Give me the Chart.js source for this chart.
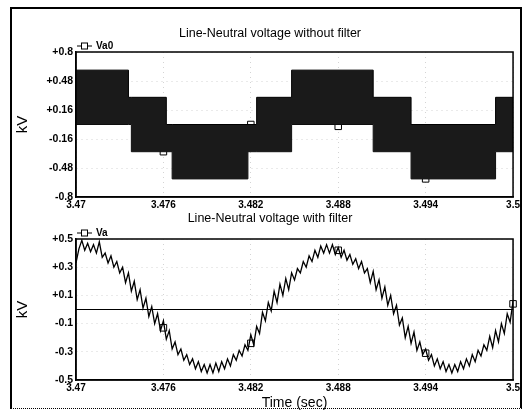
<!DOCTYPE html>
<html>
<head>
<meta charset="utf-8">
<script src="https://cdn.jsdelivr.net/npm/chart.js@4.4.0/dist/chart.umd.min.js"></script>
<style>
  body { margin: 0; background: #fff; }
  #frame { position: absolute; left: 10px; top: 7px; width: 512px; height: 402px; box-sizing: border-box;
    border-top: 2px solid #000; border-left: 2px solid #000; border-right: 2px solid #000; border-bottom: 1px dotted #000; }
  .box { position: absolute; left: 10px; width: 512px; }
  #top { top: 7px; height: 205px; }
  #bottom { top: 208px; height: 202px; }
</style>
</head>
<body>
<div id="frame"></div>
<div class="box" id="top"><canvas id="chartTop" width="512" height="205"></canvas></div>
<div class="box" id="bottom"><canvas id="chartBottom" width="512" height="202"></canvas></div>
<script>
// shared x axis
const xTicks = [3.47, 3.476, 3.482, 3.488, 3.494, 3.5];
const xTickLabels = ['3.47', '3.476', '3.482', '3.488', '3.494', '3.5'];

// top panel: multilevel inverter output, drawn as the band the switching covers
const stepTimes = [3.470, 3.4736, 3.4738, 3.4762, 3.4766, 3.4818, 3.4824, 3.4848, 3.4904, 3.4930, 3.4988, 3.5];
const va0Upper = [0.6, 0.3, 0.3, 0, 0, 0, 0.3, 0.6, 0.3, 0, 0.3, 0.3];
const va0Lower = [0, 0, -0.3, -0.3, -0.6, -0.3, -0.3, 0, -0.3, -0.6, -0.3, -0.3];
const va0MarkTimes = [3.476, 3.482, 3.488, 3.494];
const va0Marks = [-0.3, 0.0, -0.02, -0.6];
const yTopTicks = [-0.8, -0.48, -0.16, 0.16, 0.48, 0.8];
const yTopLabels = ['-0.8', '-0.48', '-0.16', '+0.16', '+0.48', '+0.8'];

// bottom panel: filtered voltage, sampled every 0.2 ms from 3.47 s
const vaStart = 3.47;
const vaStep = 0.0002;
const va = [
  0.33, 0.43, 0.49, 0.42, 0.47, 0.41, 0.46, 0.40, 0.48, 0.37,
  0.40, 0.33, 0.38, 0.30, 0.34, 0.26, 0.30, 0.19, 0.26, 0.13,
  0.20, 0.07, 0.14, 0.01, 0.08, -0.05, 0.02, -0.10, -0.03, -0.15,
  -0.08, -0.21, -0.15, -0.28, -0.23, -0.32, -0.28, -0.36, -0.32, -0.39,
  -0.35, -0.42, -0.37, -0.44, -0.39, -0.45, -0.39, -0.45, -0.38, -0.44,
  -0.37, -0.42, -0.35, -0.40, -0.32, -0.36, -0.29, -0.33, -0.25, -0.29,
  -0.18, -0.25, -0.12, -0.17, -0.02, -0.08, 0.05, -0.01, 0.13, 0.05,
  0.18, 0.10, 0.22, 0.14, 0.26, 0.21, 0.29, 0.26, 0.34, 0.30,
  0.38, 0.34, 0.42, 0.37, 0.45, 0.40, 0.46, 0.40, 0.46, 0.39,
  0.44, 0.37, 0.42, 0.35, 0.39, 0.32, 0.36, 0.29, 0.34, 0.26,
  0.29, 0.19, 0.27, 0.14, 0.21, 0.08, 0.16, 0.03, 0.10, -0.03,
  0.03, -0.11, -0.06, -0.20, -0.12, -0.24, -0.16, -0.29, -0.23, -0.32,
  -0.28, -0.36, -0.32, -0.40, -0.35, -0.42, -0.37, -0.44, -0.39, -0.45,
  -0.39, -0.44, -0.37, -0.42, -0.35, -0.40, -0.32, -0.37, -0.29, -0.33,
  -0.25, -0.29, -0.19, -0.27, -0.15, -0.23, -0.10, -0.17, -0.03, -0.09,
  0.06
];
const vaMarkTimes = [3.476, 3.482, 3.488, 3.494, 3.5];
const vaMarks = [-0.13, -0.24, 0.42, -0.31, 0.04];
const yBotTicks = [-0.5, -0.3, -0.1, 0.1, 0.3, 0.5];
const yBotLabels = ['-0.5', '-0.3', '-0.1', '+0.1', '+0.3', '+0.5'];

const FONT = '"Liberation Sans", Arial, sans-serif';

function pts(xs, ys) {
  return ys.map((y, i) => ({ x: xs[i], y: y }));
}

// small "-[]- name" key sitting just above the plot, plus the plot box
const panelDeco = {
  id: 'panelDeco',
  afterDraw(chart, args, opts) {
    const ctx = chart.ctx;
    const a = chart.chartArea;
    ctx.save();
    if (opts.zeroLine) {
      const y0 = chart.scales.y.getPixelForValue(0);
      ctx.strokeStyle = '#000';
      ctx.lineWidth = 1.2;
      ctx.beginPath();
      ctx.moveTo(a.left, y0);
      ctx.lineTo(a.right, y0);
      ctx.stroke();
    }
    ctx.strokeStyle = '#000';
    ctx.lineWidth = 1.5;
    ctx.strokeRect(a.left, a.top, a.right - a.left, a.bottom - a.top);

    const y = a.top - 6;
    const x = a.left + 1;
    ctx.lineWidth = 1;
    ctx.beginPath();
    ctx.moveTo(x, y);
    ctx.lineTo(x + 15, y);
    ctx.stroke();
    ctx.fillStyle = '#fff';
    ctx.fillRect(x + 4.5, y - 3, 6, 6);
    ctx.strokeRect(x + 4.5, y - 3, 6, 6);
    ctx.fillStyle = '#000';
    ctx.font = 'bold 10px ' + FONT;
    ctx.textBaseline = 'middle';
    ctx.fillText(opts.text, x + 19, y);
    ctx.restore();
  }
};

function scales(yMin, yMax, yTicks, yLabels, xHeight, xTitle) {
  return {
    x: {
      type: 'linear',
      min: 3.47,
      max: 3.5,
      afterBuildTicks: s => { s.ticks = xTicks.map(v => ({ value: v })); },
      afterFit: s => { s.height = xHeight; },
      ticks: {
        color: '#000',
        padding: 2,
        maxRotation: 0,
        font: { family: FONT, size: 10, weight: 'bold' },
        callback: v => xTickLabels[xTicks.indexOf(v)]
      },
      grid: { color: '#d4d4d4', lineWidth: 1, drawTicks: false },
      border: { color: '#000', width: 1.5, dash: [1, 4] },
      title: {
        display: !!xTitle,
        text: xTitle,
        color: '#000',
        font: { family: FONT, size: 14, lineHeight: 1 },
        padding: { top: 0, bottom: 0 }
      }
    },
    y: {
      min: yMin,
      max: yMax,
      afterBuildTicks: s => { s.ticks = yTicks.map(v => ({ value: v })); },
      afterFit: s => { s.width = 50; },
      ticks: {
        color: '#000',
        padding: 3,
        font: { family: FONT, size: 10.5, weight: 'bold' },
        callback: v => yLabels[yTicks.indexOf(v)]
      },
      grid: { color: '#d4d4d4', lineWidth: 1, drawTicks: false },
      border: { color: '#000', width: 1.5, dash: [1, 4] },
      title: {
        display: true,
        text: 'kV',
        color: '#000',
        font: { family: FONT, size: 15 },
        padding: { top: -12, bottom: 0 }
      }
    }
  };
}

function titleOpts(text, top, bottom) {
  return {
    display: true,
    text: text,
    color: '#000',
    font: { family: FONT, size: 12.5, weight: 'normal', lineHeight: 1.2 },
    padding: { top: top, bottom: bottom }
  };
}

const markStyle = {
  showLine: false,
  pointStyle: 'rect',
  pointRadius: 4.6,
  backgroundColor: '#fff',
  borderColor: '#000',
  borderWidth: 1,
  clip: false
};

new Chart(document.getElementById('chartTop'), {
  type: 'line',
  data: {
    datasets: [
      {
        label: 'Va0 upper',
        data: pts(stepTimes, va0Upper),
        stepped: true,
        borderColor: '#000',
        borderWidth: 1,
        backgroundColor: '#1a1a1a',
        fill: '+1',
        pointRadius: 0
      },
      {
        label: 'Va0 lower',
        data: pts(stepTimes, va0Lower),
        stepped: true,
        borderColor: '#000',
        borderWidth: 1,
        fill: false,
        pointRadius: 0
      },
      Object.assign({ label: 'Va0', data: pts(va0MarkTimes, va0Marks) }, markStyle)
    ]
  },
  options: {
    responsive: false,
    animation: false,
    layout: { padding: { left: 16, right: 8, top: 0, bottom: 0 } },
    plugins: {
      legend: { display: false },
      tooltip: { enabled: false },
      title: titleOpts('Line-Neutral voltage without filter', 19.5, 10.5),
      panelDeco: { text: 'Va0', zeroLine: false }
    },
    scales: scales(-0.8, 0.8, yTopTicks, yTopLabels, 15, '')
  },
  plugins: [panelDeco]
});

new Chart(document.getElementById('chartBottom'), {
  type: 'line',
  data: {
    datasets: [
      {
        label: 'Va',
        data: va.map((v, i) => ({ x: vaStart + i * vaStep, y: v })),
        borderColor: '#000',
        borderWidth: 1.3,
        fill: false,
        pointRadius: 0,
        tension: 0
      },
      Object.assign({ label: 'Va marks', data: pts(vaMarkTimes, vaMarks) }, markStyle)
    ]
  },
  options: {
    responsive: false,
    animation: false,
    layout: { padding: { left: 16, right: 8, top: 0, bottom: 0 } },
    plugins: {
      legend: { display: false },
      tooltip: { enabled: false },
      title: titleOpts('Line-Neutral voltage with filter', 3.5, 12.5),
      panelDeco: { text: 'Va', zeroLine: true }
    },
    scales: scales(-0.5, 0.5, yBotTicks, yBotLabels, 30, 'Time (sec)')
  },
  plugins: [panelDeco]
});
</script>
</body>
</html>
